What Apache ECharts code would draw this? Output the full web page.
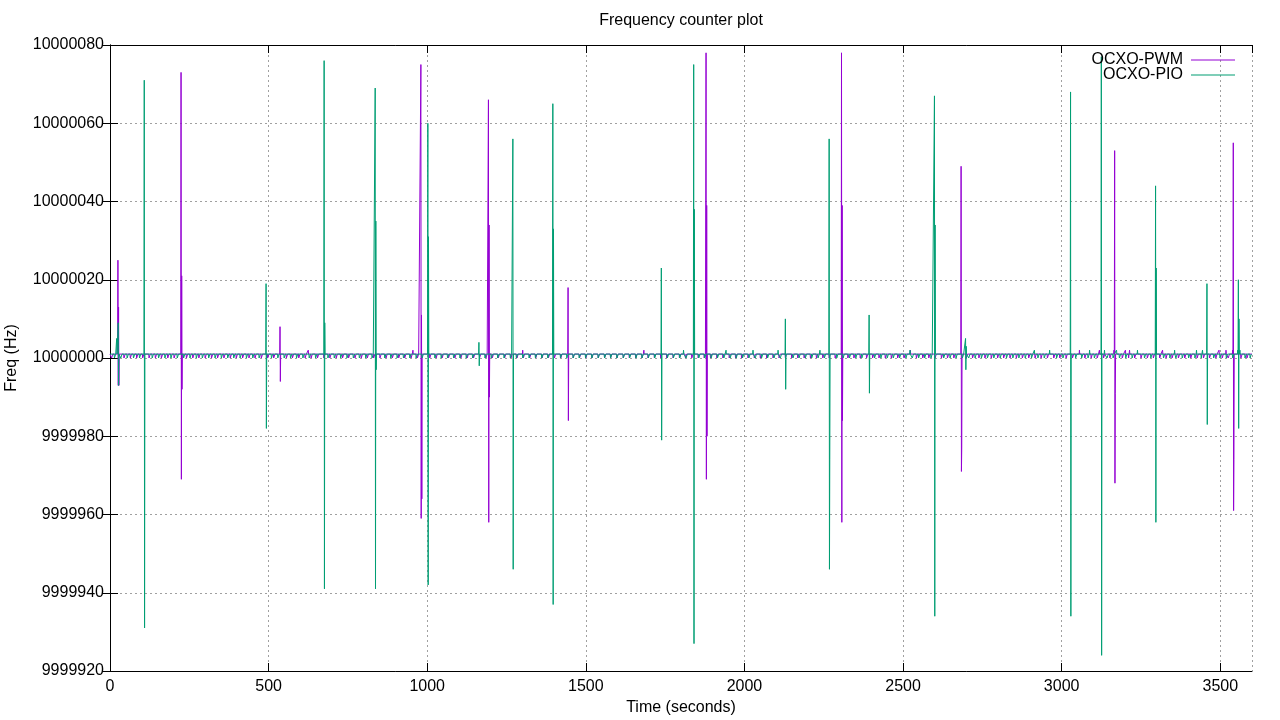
<!DOCTYPE html>
<html>
<head>
<meta charset="utf-8">
<script src="https://cdn.jsdelivr.net/npm/echarts@6/dist/echarts.min.js"></script>
<style>html,body{margin:0;padding:0;background:#fff}#c{width:1280px;height:720px}</style>
</head>
<body>
<div id="c"></div>
<script>
// ---- data (frequency offsets in Hz from baseHz, time in seconds) ----
const baseHz = 10000000;
const lockOffset = 1;   // usual reading 10000001 Hz
const dipOffset = 0;    // occasional reading 10000000 Hz
const dipLength = 4;    // seconds each 10000000 Hz episode lasts
const xTicks = [0, 500, 1000, 1500, 2000, 2500, 3000, 3500];
const yTicks = [9999920, 9999940, 9999960, 9999980, 10000000, 10000020, 10000040, 10000060, 10000080];

// OCXO-PWM: glitch events (start second, consecutive sample offsets)
const pwmEventT = [25, 224, 536, 625, 955, 980, 1193, 1301, 1444, 1683, 1879, 2306, 2523, 2683, 3056, 3119, 3165, 3167, 3201, 3214, 3318, 3496, 3518, 3539, 3541];
const pwmEventV = [[25,-7,13,-7],[73,-31,21,-8],[8,-6],[2],[2],[75,-41,11,-36],[66,-42,34,-10],[2],[18,-16],[2],[78,-31,39,-20],[78,-42,39,-16],[2],[49,-29,-23],[2],[2],[2],[53,-32,-9],[2],[2],[2],[2],[2],[2],[55,-39,-26]];
// OCXO-PWM: start seconds of 10000000 Hz readings
const pwmDipT = [5,44,64,84,103,123,143,162,182,202,241,261,280,300,320,339,359,379,398,418,438,457,477,497,516,556,575,595,615,634,654,674,693,713,733,752,772,792,811,831,851,870,890,910,929,949,969,1008,1028,1047,1067,1087,1106,1126,1146,1165,1185,1205,1224,1244,1264,1283,1303,1323,1342,1362,1382,1401,1421,1460,1480,1500,1519,1539,1559,1578,1598,1618,1637,1657,1677,1696,1716,1736,1755,1775,1795,1814,1834,1854,1873,1893,1913,1932,1952,1972,1991,2011,2031,2050,2070,2090,2109,2129,2149,2168,2188,2208,2227,2247,2267,2286,2326,2345,2365,2385,2404,2424,2444,2463,2483,2503,2542,2562,2581,2601,2621,2640,2660,2699,2719,2739,2758,2778,2798,2817,2837,2857,2876,2896,2916,2935,2955,2975,2994,3014,3034,3073,3093,3112,3132,3152,3191,3211,3230,3250,3270,3289,3309,3329,3348,3368,3388,3407,3427,3447,3466,3486,3506,3525,3565,3584];

// OCXO-PIO: glitch events
const pioEventT = [21, 26, 108, 492, 675, 836, 1002, 1163, 1270, 1396, 1738, 1808, 1840, 1942, 2027, 2106, 2129, 2238, 2267, 2393, 2522, 2599, 2697, 2914, 2962, 3028, 3088, 3125, 3135, 3173, 3239, 3296, 3356, 3425, 3444, 3458, 3555, 3557, 3562];
const pioEventV = [[5],[9,-7],[71,-69],[19,-18],[76,-59,9],[69,-59,35,-3],[60,-58,31],[4,-2],[56,-54],[65,-63,33],[23,-21],[2],[75,-73,38],[2],[2],[2],[10,-8],[2],[56,-54,-26],[11,-9],[2],[67,-66,34],[5,-3,3],[2],[2],[68,-66],[2],[77,-76],[2],[2],[2],[44,-42,23],[2],[2],[2],[19,-17],[2],[20,-18,10],[2]];
// OCXO-PIO: start seconds of 10000000 Hz readings
const pioDipT = [14,34,54,74,93,133,153,173,192,212,232,252,272,291,311,331,351,371,390,410,430,450,470,509,529,549,569,588,608,628,648,687,707,727,747,767,786,806,826,866,885,905,925,945,965,984,1024,1044,1064,1083,1103,1123,1143,1182,1202,1222,1242,1262,1281,1301,1321,1341,1361,1380,1420,1440,1460,1479,1499,1519,1539,1559,1578,1598,1618,1638,1658,1677,1697,1717,1757,1776,1796,1816,1856,1875,1895,1915,1935,1955,1974,1994,2014,2034,2054,2073,2093,2113,2153,2172,2192,2212,2232,2252,2291,2311,2331,2351,2370,2410,2430,2450,2469,2489,2509,2529,2549,2568,2588,2628,2648,2667,2687,2707,2727,2747,2766,2786,2806,2826,2846,2865,2885,2905,2925,2945,2984,3004,3044,3063,3083,3103,3143,3162,3182,3202,3222,3261,3281,3321,3341,3360,3380,3400,3420,3440,3479,3499,3519,3539,3578,3594];

const tStart = 0, tEnd = 3600;

function buildSeries(eventT, eventV, dipT) {
  const m = new Map();
  dipT.forEach(t => { for (let k = 0; k < dipLength; k++) m.set(t + k, dipOffset); });
  eventT.forEach((t, i) => eventV[i].forEach((v, j) => m.set(t + j, v)));
  const ts = [...m.keys()].sort((a, b) => a - b);
  const pts = [[tStart, baseHz + lockOffset]];
  ts.forEach(t => {
    if (!m.has(t - 1)) pts.push([t - 1, baseHz + lockOffset]);
    pts.push([t, baseHz + m.get(t)]);
    if (!m.has(t + 1)) pts.push([t + 1, baseHz + lockOffset]);
  });
  pts.push([tEnd, baseHz + lockOffset]);
  return pts;
}

const pwmData = buildSeries(pwmEventT, pwmEventV, pwmDipT);
const pioData = buildSeries(pioEventT, pioEventV, pioDipT);

const font = 'Liberation Sans, Arial, sans-serif';
const chart = echarts.init(document.getElementById('c'), null, {renderer: 'canvas'});
const axisLine = {show: true, lineStyle: {color: '#000', width: 1}};
const ticks = {show: true, inside: true, length: 8, lineStyle: {color: '#000'}};
const legendText = {fontFamily: font, fontSize: 16, color: '#000', padding: [0, 3, 0, 0]};
chart.setOption({
  animation: false,
  backgroundColor: '#fff',
  graphic: [{
    type: 'text', x: 681, y: 21, silent: true,
    style: {text: 'Frequency counter plot', fontFamily: font, fontSize: 16, fill: '#000',
            textAlign: 'center', textVerticalAlign: 'middle'}
  }],
  legend: [
    {data: ['OCXO-PWM'], right: 45, top: 52, padding: 0, align: 'right', icon: 'rect', itemWidth: 44, itemHeight: 1,
     textStyle: legendText},
    {data: ['OCXO-PIO'], right: 45, top: 67, padding: 0, align: 'right', icon: 'rect', itemWidth: 44, itemHeight: 1,
     textStyle: legendText}
  ],
  grid: {left: 110, right: 28, top: 45, bottom: 49, containLabel: false, outerBoundsMode: 'none'},
  xAxis: [
    {type: 'value', min: 0, max: 3600, interval: 500, position: 'bottom',
     name: 'Time (seconds)', nameLocation: 'middle', nameGap: 29,
     nameTextStyle: {fontFamily: font, fontSize: 16, color: '#000'},
     axisLine: axisLine, axisTick: ticks,
     axisLabel: {fontFamily: font, fontSize: 16, color: '#000', margin: 8, showMaxLabel: false,
                 formatter: v => xTicks.includes(v) ? String(v) : ''},
     splitLine: {show: true, lineStyle: {color: '#a0a0a0', type: [2, 3], width: 1}}},
    {type: 'value', min: 0, max: 3600, interval: 500, position: 'top',
     axisLine: axisLine, axisTick: ticks, axisLabel: {show: false}, splitLine: {show: false}}
  ],
  yAxis: [
    {type: 'value', min: 9999920, max: 10000080, interval: 20, position: 'left',
     name: 'Freq (Hz)', nameLocation: 'middle', nameGap: 90, nameRotate: 90,
     nameTextStyle: {fontFamily: font, fontSize: 16, color: '#000'},
     axisLine: axisLine, axisTick: ticks,
     axisLabel: {fontFamily: font, fontSize: 16, color: '#000', margin: 6,
                 formatter: v => yTicks.includes(v) ? String(v) : ''},
     splitLine: {show: true, lineStyle: {color: '#a0a0a0', type: [2, 3], width: 1}}},
    {type: 'value', min: 9999920, max: 10000080, interval: 20, position: 'right',
     axisLine: axisLine, axisTick: ticks, axisLabel: {show: false}, splitLine: {show: false}}
  ],
  series: [
    {name: 'OCXO-PWM', type: 'line', data: pwmData, showSymbol: false, symbol: 'none',
     xAxisIndex: 0, yAxisIndex: 0, color: '#9400d3', lineStyle: {width: 1, color: '#9400d3'}, silent: true, clip: true},
    {name: 'OCXO-PIO', type: 'line', data: pioData, showSymbol: false, symbol: 'none',
     xAxisIndex: 0, yAxisIndex: 0, color: '#009e73', lineStyle: {width: 1, color: '#009e73'}, silent: true, clip: true}
  ]
});
</script>
</body>
</html>
